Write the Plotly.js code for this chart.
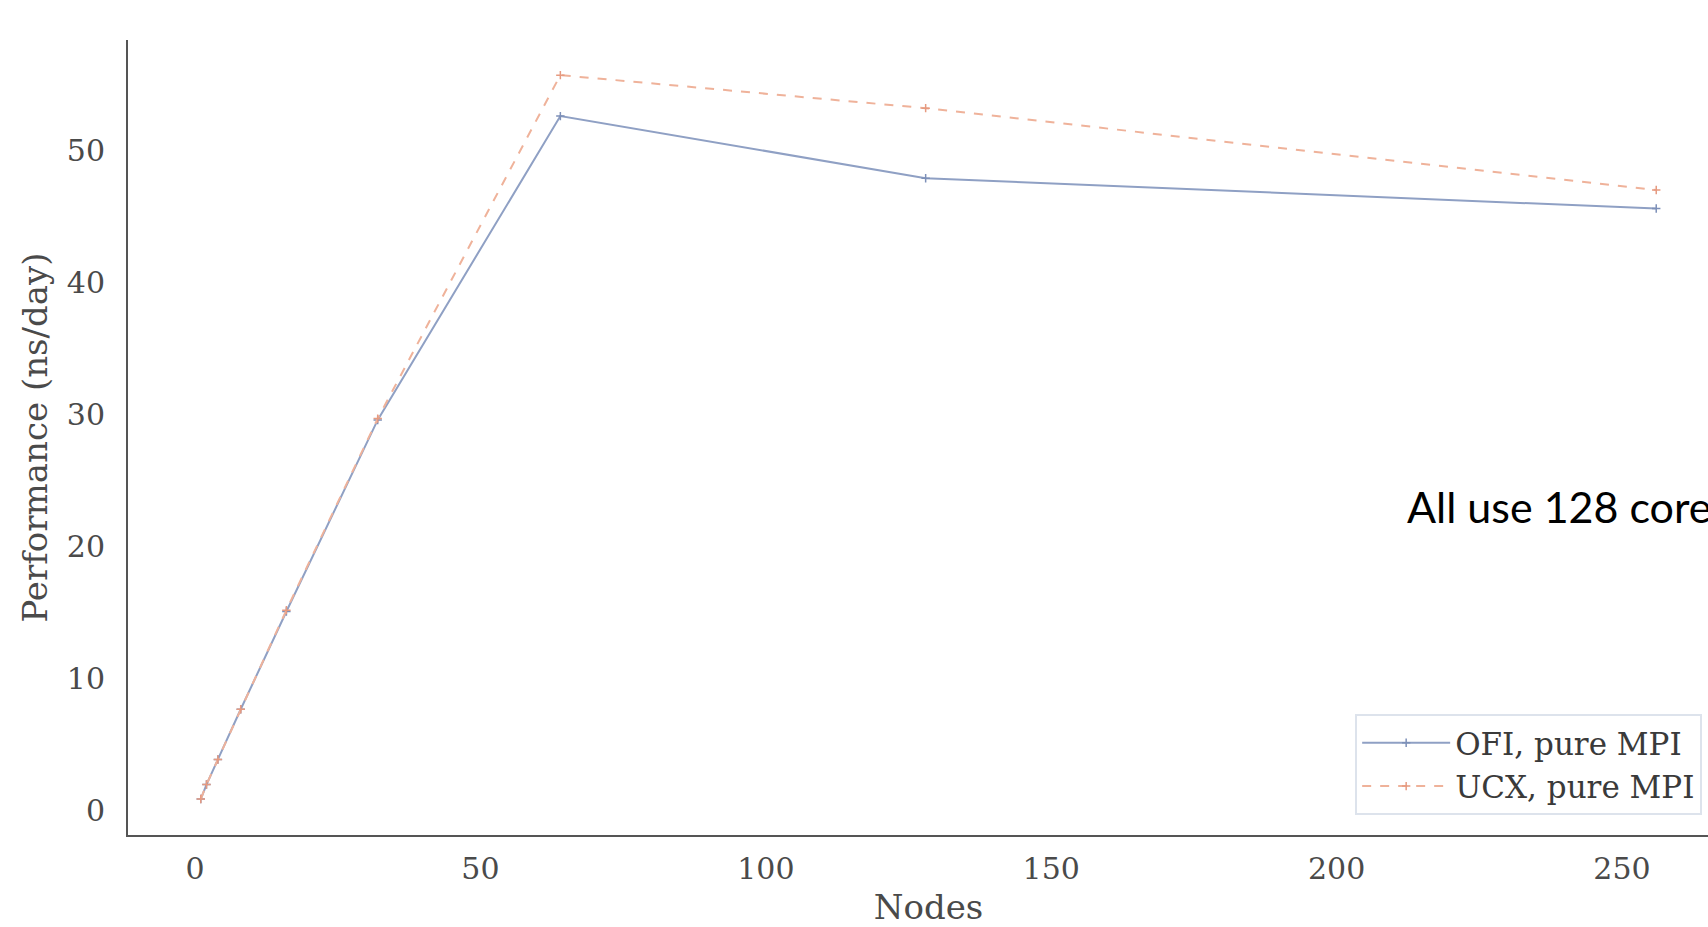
<!DOCTYPE html>
<html>
<head>
<meta charset="utf-8">
<script src="https://cdn.plot.ly/plotly-3.0.1.min.js"></script>
<style>
  html, body { margin: 0; padding: 0; overflow: hidden; background: #ffffff; }
  #chart { width: 1760px; height: 927px; }
</style>
</head>
<body>
<div id="chart"></div>
<script>
const nodes = [1, 2, 4, 8, 16, 32, 64, 128, 256];
const ofiPerf = [0.9, 2.0, 3.9, 7.7, 15.1, 29.6, 52.6, 47.9, 45.6];
const ucxPerf = [0.9, 2.0, 3.9, 7.7, 15.2, 29.7, 55.7, 53.2, 47.0];
const seriesNames = ["OFI, pure MPI", "UCX, pure MPI"];
const xTicks = [0, 50, 100, 150, 200, 250];
const yTicks = [0, 10, 20, 30, 40, 50];
const noteText = "All use 128 cores";

const serif = "DejaVu Serif, serif";
const tickColor = "#4a4a4a";

const traces = [
  {
    x: nodes, y: ofiPerf, name: seriesNames[0], type: "scatter", mode: "lines+markers",
    line: { color: "#8fa0c4", width: 2, dash: "solid" },
    marker: { symbol: "cross-thin-open", size: 6, color: "#7d90b8", line: { width: 1.5, color: "#7d90b8" } }
  },
  {
    x: nodes, y: ucxPerf, name: seriesNames[1], type: "scatter", mode: "lines+markers",
    line: { color: "#efb29a", width: 2, dash: "dash" },
    marker: { symbol: "cross-thin-open", size: 6, color: "#e69a80", line: { width: 1.5, color: "#e69a80" } }
  }
];

const layout = {
  width: 1760, height: 927,
  margin: { l: 127.5, r: 31, t: 40, b: 91.5, pad: 0 },
  paper_bgcolor: "#ffffff", plot_bgcolor: "#ffffff",
  showlegend: true,
  xaxis: {
    range: [-11.75, 268.75], tickvals: xTicks, ticktext: xTicks.map(String),
    showgrid: false, zeroline: false, showline: true, linecolor: "#555555", linewidth: 2,
    ticks: "", ticklabelstandoff: 6,
    tickfont: { family: serif, size: 30, color: tickColor },
    title: { text: "Nodes", font: { family: serif, size: 34, color: tickColor }, standoff: 14 },
    automargin: false
  },
  yaxis: {
    range: [-1.82, 58.36], tickvals: yTicks, ticktext: yTicks.map(String),
    showgrid: false, zeroline: false, showline: true, linecolor: "#555555", linewidth: 2,
    ticks: "", ticklabelstandoff: 15,
    tickfont: { family: serif, size: 30, color: tickColor },
    title: { text: "Performance (ns/day)", font: { family: serif, size: 34, color: tickColor }, standoff: 9 },
    automargin: false
  },
  legend: {
    x: 0.7665, y: 0.152, xanchor: "left", yanchor: "top",
    bgcolor: "rgba(255,255,255,0.9)", bordercolor: "#dde3ec", borderwidth: 2,
    font: { family: serif, size: 31, color: "#3a3a3a" },
    tracegroupgap: 0, itemwidth: 88
  },
  annotations: [
    {
      text: noteText, xref: "paper", yref: "paper", x: 0.7977, y: 0.413,
      xanchor: "left", yanchor: "middle", showarrow: false,
      font: { family: "Lato, Carlito, sans-serif", size: 43, color: "#000000" }
    }
  ]
};

Plotly.newPlot("chart", traces, layout, { displayModeBar: false, staticPlot: true });
</script>
</body>
</html>
